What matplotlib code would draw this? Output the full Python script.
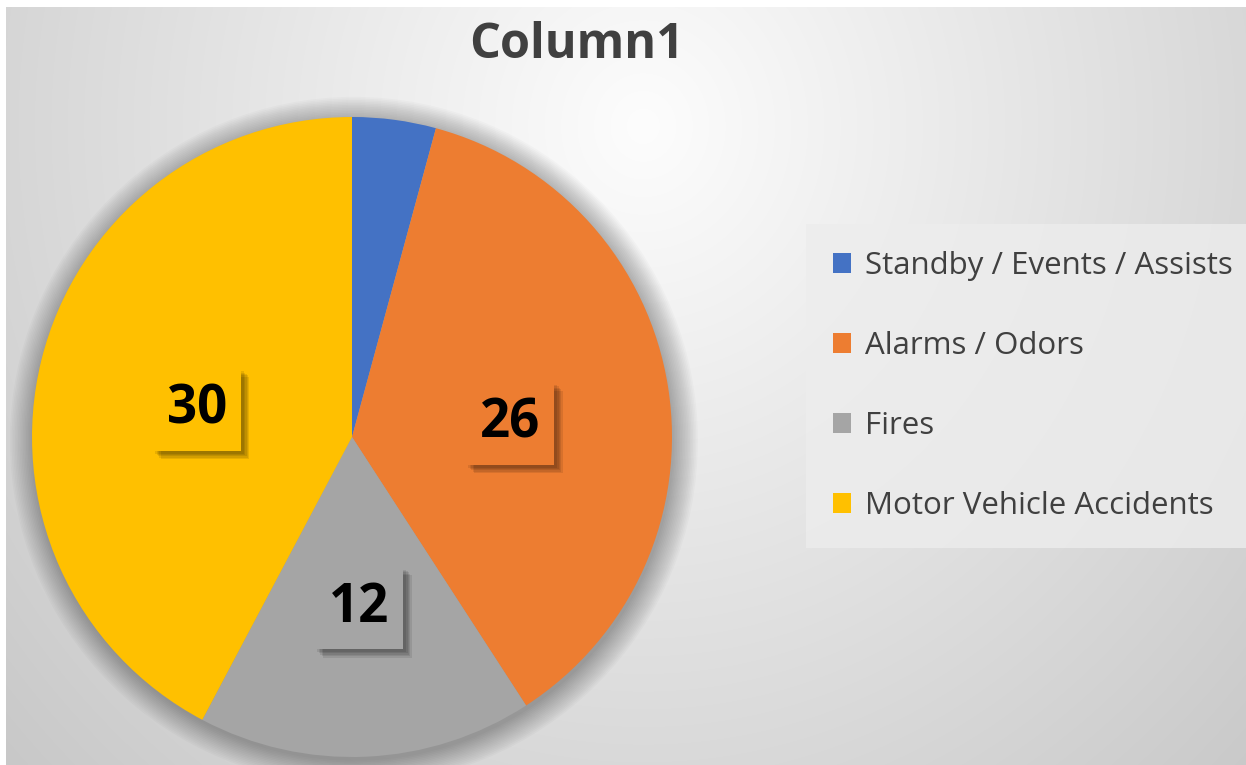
import numpy as np
import matplotlib.pyplot as plt
from matplotlib.patches import Patch, Circle
import matplotlib.patheffects as pe

# ============================================================
# DATA
# ============================================================

categories = ["Standby / Events / Assists", "Alarms / Odors", "Fires", "Motor Vehicle Accidents"]
values = [3, 26, 12, 30]
colors = ["#4472C4", "#ED7D31", "#A5A5A5", "#FFC000"]
show_label = [False, True, True, True]
title = "Column1"

W, H = 1246, 765

fig = plt.figure(figsize=(W / 100, H / 100), dpi=100)
fig.patch.set_facecolor("white")

# ============================================================
# BACKGROUND GRADIENT
# ============================================================

bg = fig.add_axes([6 / W, 0, 1 - 6 / W, 1 - 7 / H])
bg.set_axis_off()
yy, xx = np.mgrid[0:H, 0:W]
d = np.sqrt(((xx - 640) / 760) ** 2 + ((yy - 120) / 820) ** 2)
shade = np.clip(253 - 46 * d, 195, 253) / 255.0
rgb = np.dstack([shade, shade, shade])
bg.imshow(rgb, aspect="auto", interpolation="bilinear")

# ============================================================
# PIE
# ============================================================

cx, cy, r = 352, 437, 320
ax = fig.add_axes([(cx - r) / W, (H - cy - r) / H, 2 * r / W, 2 * r / H])
ax.set_axis_off()

# soft shadow round the pie
for i in range(16):
    ax.add_patch(Circle((0.006, -0.012), 1.0 + 0.005 * i, color="black",
                        alpha=0.02, lw=0, clip_on=False, zorder=0))

wedges, _ = ax.pie(values, colors=colors, startangle=90, counterclock=False,
                   radius=1.0, wedgeprops=dict(linewidth=0), frame=False)
for w in wedges:
    w.set_zorder(2)

ax.set_xlim(-1, 1)
ax.set_ylim(-1, 1)
ax.set_aspect("equal")

total = sum(values)
start = 90.0
shadow = [pe.SimplePatchShadow(offset=(k, -k), shadow_rgbFace="black", alpha=0.09)
          for k in (2, 3, 4, 5, 6)]
for v, c, show in zip(values, colors, show_label):
    ang = np.deg2rad(start - 360.0 * v / total / 2)
    start -= 360.0 * v / total
    if not show:
        continue
    t = ax.text(0.5 * np.cos(ang), 0.5 * np.sin(ang) - 0.035, str(v),
                ha="center", va="center", fontsize=38, fontweight="bold",
                family="Open Sans", color="black", zorder=5,
                bbox=dict(boxstyle="square,pad=0.27", facecolor=c, edgecolor="none"))
    t.get_bbox_patch().set_path_effects(shadow + [pe.Normal()])

# ============================================================
# TITLE + LEGEND
# ============================================================

fig.text(577 / W, 1 - 46 / H, title, ha="center", va="center",
         fontsize=35, fontweight="bold", family="Open Sans", color="#404040")

handles = [Patch(facecolor=c, edgecolor="none") for c in colors]
leg = fig.legend(handles, categories, loc="center left",
                 bbox_to_anchor=(806 / W, 1 - 386 / H), borderaxespad=0,
                 handlelength=0.6, handleheight=0.6,
                 handletextpad=0.45, labelspacing=1.6, borderpad=0.85,
                 frameon=True, fancybox=False, prop={"family": "Open Sans", "size": 22.5})
leg.get_frame().set_facecolor("#ededed")
leg.get_frame().set_edgecolor("none")
leg.get_frame().set_alpha(0.8)
for txt in leg.get_texts():
    txt.set_color("#404040")

plt.savefig("out.png", dpi=100)
plt.close()
